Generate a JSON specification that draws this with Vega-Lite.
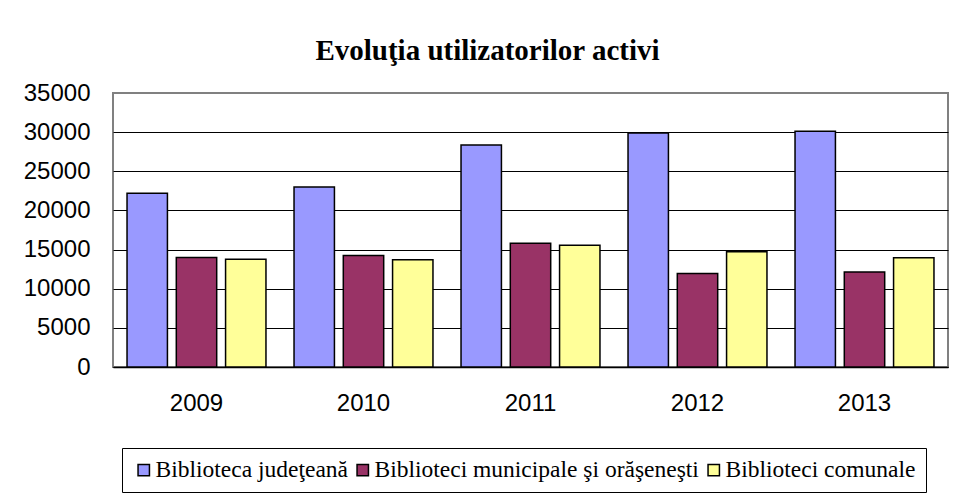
{
  "$schema": "https://vega.github.io/schema/vega-lite/v6.json",
  "width": 835,
  "height": 274,
  "autosize": {"type": "none"},
  "padding": {"left": 113, "top": 93, "right": 8, "bottom": 129},
  "background": "white",
  "title": {
    "text": "Evoluţia utilizatorilor activi",
    "font": "Liberation Serif",
    "fontSize": 29,
    "fontWeight": "bold",
    "color": "black",
    "anchor": "middle",
    "frame": "group",
    "offset": 15,
    "dx": -43
  },
  "data": {
    "values": [
      {"year": "2009", "type": "Biblioteca judeţeană", "value": 22200},
      {"year": "2009", "type": "Biblioteci municipale şi orăşeneşti", "value": 14000},
      {"year": "2009", "type": "Biblioteci comunale", "value": 13750},
      {"year": "2010", "type": "Biblioteca judeţeană", "value": 23000},
      {"year": "2010", "type": "Biblioteci municipale şi orăşeneşti", "value": 14250},
      {"year": "2010", "type": "Biblioteci comunale", "value": 13700},
      {"year": "2011", "type": "Biblioteca judeţeană", "value": 28350},
      {"year": "2011", "type": "Biblioteci municipale şi orăşeneşti", "value": 15800},
      {"year": "2011", "type": "Biblioteci comunale", "value": 15550},
      {"year": "2012", "type": "Biblioteca judeţeană", "value": 29900},
      {"year": "2012", "type": "Biblioteci municipale şi orăşeneşti", "value": 11950},
      {"year": "2012", "type": "Biblioteci comunale", "value": 14730},
      {"year": "2013", "type": "Biblioteca judeţeană", "value": 30100},
      {"year": "2013", "type": "Biblioteci municipale şi orăşeneşti", "value": 12150},
      {"year": "2013", "type": "Biblioteci comunale", "value": 13950}
    ]
  },
  "mark": {"type": "bar", "stroke": "black", "strokeWidth": 1.5},
  "encoding": {
    "x": {
      "field": "year",
      "type": "nominal",
      "scale": {"paddingInner": 0.168, "paddingOuter": 0.084},
      "axis": {
        "title": null,
        "labelAngle": 0,
        "labelFont": "Liberation Sans",
        "labelFontSize": 24,
        "labelColor": "black",
        "labelPadding": 24,
        "ticks": false,
        "domainColor": "black",
        "domainWidth": 1.5
      }
    },
    "xOffset": {
      "field": "type",
      "type": "nominal",
      "sort": ["Biblioteca judeţeană", "Biblioteci municipale şi orăşeneşti", "Biblioteci comunale"],
      "scale": {"paddingInner": 0.18, "paddingOuter": 0}
    },
    "y": {
      "field": "value",
      "type": "quantitative",
      "scale": {"domain": [0, 35000], "nice": false},
      "axis": {
        "title": null,
        "values": [0, 5000, 10000, 15000, 20000, 25000, 30000, 35000],
        "format": "d",
        "labelFont": "Liberation Sans",
        "labelFontSize": 24,
        "labelColor": "black",
        "labelPadding": 23,
        "ticks": false,
        "domain": false,
        "grid": true,
        "gridColor": {"condition": {"test": "datum.value == 35000", "value": "#808080"}, "value": "black"},
        "gridWidth": 1.2
      }
    },
    "color": {
      "field": "type",
      "type": "nominal",
      "sort": ["Biblioteca judeţeană", "Biblioteci municipale şi orăşeneşti", "Biblioteci comunale"],
      "scale": {
        "domain": ["Biblioteca judeţeană", "Biblioteci municipale şi orăşeneşti", "Biblioteci comunale"],
        "range": ["#9999FF", "#993366", "#FFFF99"]
      },
      "legend": {
        "title": null,
        "orient": "none",
        "direction": "horizontal",
        "legendX": 9,
        "legendY": 355,
        "labelFont": "Liberation Serif",
        "labelFontSize": 23.5,
        "labelColor": "black",
        "labelLimit": 500,
        "labelOffset": 0,
        "symbolType": "square",
        "symbolSize": 130,
        "symbolStrokeColor": "black",
        "symbolStrokeWidth": 1.5,
        "symbolOpacity": 1,
        "columnPadding": 3,
        "padding": 10,
        "strokeColor": "black"
      }
    }
  },
  "config": {
    "view": {"stroke": "#808080", "strokeWidth": 2}
  }
}
